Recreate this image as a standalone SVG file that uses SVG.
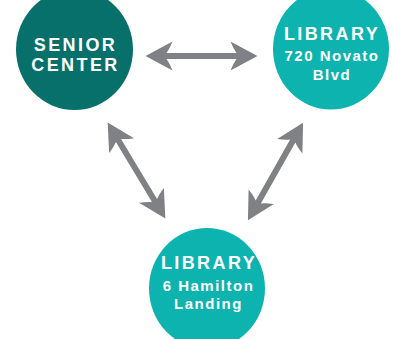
<svg xmlns="http://www.w3.org/2000/svg" width="393" height="339" viewBox="0 0 393 339">
  <style>
    .lbl { font-family: "Liberation Sans", Arial, sans-serif; font-weight: bold; fill: #ffffff; text-anchor: middle; }
    .big { font-size: 18px; letter-spacing: 2.4px; }
    .small { font-size: 15px; letter-spacing: 1.5px; }
    .dark { fill: #07706a; }
    .teal { fill: #0db3af; }
    .arrow { fill: #808184; }
  </style>
  <defs>
    <path id="dbl" d="M -56 0 L -29 -14.5 Q -32 -7 -35 -3 L 35 -3 Q 32 -7 29 -14.5 L 56 0 L 29 14.5 Q 32 7 35 3 L -35 3 Q -32 7 -29 14.5 Z"/>
  </defs>
  <g id="connectors" class="arrow">
    <use href="#dbl" transform="translate(201.5 56)"/>
    <use href="#dbl" transform="translate(136.5 170.5) rotate(59)"/>
    <use href="#dbl" transform="translate(275.5 171.5) rotate(-60.5)"/>
  </g>
  <g id="senior-center">
    <ellipse class="dark" cx="74.5" cy="49.5" rx="58.5" ry="60.5"/>
    <text class="lbl big" x="75.5" y="51">SENIOR</text>
    <text class="lbl big" x="75.5" y="71">CENTER</text>
  </g>
  <g id="library-novato">
    <ellipse class="teal" cx="331" cy="49" rx="58" ry="60.5"/>
    <text class="lbl big" x="332" y="40">LIBRARY</text>
    <text class="lbl small" x="332" y="61">720 Novato</text>
    <text class="lbl small" x="332" y="80">Blvd</text>
  </g>
  <g id="library-hamilton">
    <ellipse class="teal" cx="207" cy="288.5" rx="58" ry="60.5"/>
    <text class="lbl big" x="209" y="269">LIBRARY</text>
    <text class="lbl small" x="208.5" y="291">6 Hamilton</text>
    <text class="lbl small" x="208.5" y="309">Landing</text>
  </g>
</svg>
